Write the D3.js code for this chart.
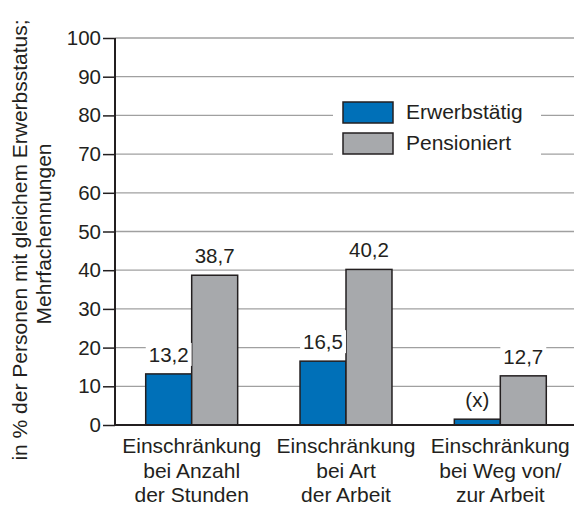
<!DOCTYPE html>
<html>
<head>
<meta charset="utf-8">
<script src="https://cdn.jsdelivr.net/npm/d3@7"></script>
<style>
  html, body { margin: 0; padding: 0; background: #fff; }
  svg { display: block; }
  text { font-family: "Liberation Sans", Arial, Helvetica, sans-serif; fill: #231f20; }
</style>
</head>
<body>
<script>
// Categories (each split into display lines)
const categories = [
  ["Einschränkung", "bei Anzahl", "der Stunden"],
  ["Einschränkung", "bei Art", "der Arbeit"],
  ["Einschränkung", "bei Weg von/", "zur Arbeit"]
];
const seriesNames = ["Erwerbstätig", "Pensioniert"];
const erwerbstaetig = [13.2, 16.5, 1.5];
const pensioniert = [38.7, 40.2, 12.7];
const erwerbstaetigLabels = ["13,2", "16,5", "(x)"];
const pensioniertLabels = ["38,7", "40,2", "12,7"];
const yTicks = [0, 10, 20, 30, 40, 50, 60, 70, 80, 90, 100];
const yTitle = ["in % der Personen mit gleichem Erwerbsstatus;", "Mehrfachennungen"];

const colors = ["#0070b8", "#a7a9ac"];
const W = 574, H = 507;
const mLeft = 115, mTop = 38, mBottom = 425, mRight = 574;

const svg = d3.select("body").append("svg").attr("width", W).attr("height", H);

const y = d3.scaleLinear().domain([0, 100]).range([mBottom, mTop]);
const x = d3.scaleBand().domain(d3.range(categories.length))
  .range([mLeft, 577]).paddingInner(0.404).paddingOuter(0.199);
const xs = d3.scaleBand().domain([0, 1]).range([0, x.bandwidth()]);

// Gridlines
svg.append("g").selectAll("line").data(yTicks.filter(d => d > 0)).join("line")
  .attr("x1", mLeft).attr("x2", mRight)
  .attr("y1", d => y(d)).attr("y2", d => y(d))
  .attr("stroke", "#a0a0a0").attr("stroke-width", 1.3);

// Bars
const series = [erwerbstaetig, pensioniert];
const labels = [erwerbstaetigLabels, pensioniertLabels];
const bars = svg.append("g");
series.forEach((vals, s) => {
  bars.selectAll(null).data(vals).join("rect")
    .attr("x", (d, i) => x(i) + xs(s))
    .attr("y", d => y(d))
    .attr("width", xs.bandwidth())
    .attr("height", d => y(0) - y(d))
    .attr("fill", colors[s])
    .attr("stroke", "#231f20").attr("stroke-width", 1.5);
});

// Value labels with white backing
const lab = svg.append("g");
series.forEach((vals, s) => {
  vals.forEach((v, i) => {
    const cx = x(i) + xs(s) + xs.bandwidth() / 2;
    const by = y(v) - 12;
    const g = lab.append("g");
    const t = g.append("text").attr("x", cx).attr("y", by)
      .attr("text-anchor", "middle").attr("font-size", 20.5)
      .text(labels[s][i]);
    const bb = t.node().getBBox();
    g.insert("rect", "text").attr("x", bb.x - 3).attr("y", bb.y)
      .attr("width", bb.width + 6).attr("height", bb.height)
      .attr("fill", "#fff");
  });
});

// Y axis
const yAxis = d3.axisLeft(y).tickValues(yTicks).tickSize(12).tickPadding(2);
const ga = svg.append("g").attr("transform", `translate(${mLeft},0)`).call(yAxis);
ga.select(".domain").remove();
ga.selectAll(".tick line").attr("stroke", "#231f20").attr("stroke-width", 1.5);
ga.selectAll(".tick text").attr("font-size", 20.5).attr("font-family", "Liberation Sans, Arial, sans-serif").attr("fill", "#231f20");
svg.append("line").attr("x1", mLeft).attr("x2", mLeft).attr("y1", y(100)).attr("y2", mBottom)
  .attr("stroke", "#231f20").attr("stroke-width", 2);
svg.append("line").attr("x1", mLeft - 1).attr("x2", mRight).attr("y1", mBottom).attr("y2", mBottom)
  .attr("stroke", "#231f20").attr("stroke-width", 2);

// Category labels
categories.forEach((lines, i) => {
  const t = svg.append("text").attr("text-anchor", "middle").attr("font-size", 21);
  lines.forEach((ln, j) => {
    t.append("tspan").attr("x", x(i) + x.bandwidth() / 2).attr("y", 453 + j * 24.5).text(ln);
  });
});

// Y title (two rotated lines)
[27, 51].forEach((bx, j) => {
  svg.append("text").attr("font-size", 21).attr("text-anchor", "middle")
    .attr("transform", `translate(${bx},${j === 0 ? 240 : 234}) rotate(-90)`)
    .text(yTitle[j]);
});

// Legend
const lg = svg.append("g");
lg.append("rect").attr("x", 333).attr("y", 96).attr("width", 208).attr("height", 64).attr("fill", "#fff");
seriesNames.forEach((n, s) => {
  const yy = 102 + s * 31;
  lg.append("rect").attr("x", 343).attr("y", yy).attr("width", 50).attr("height", 21)
    .attr("fill", colors[s]).attr("stroke", "#231f20").attr("stroke-width", 1.5);
  lg.append("text").attr("x", 406).attr("y", yy + 16.5).attr("font-size", 21).text(n);
});
</script>
</body>
</html>
